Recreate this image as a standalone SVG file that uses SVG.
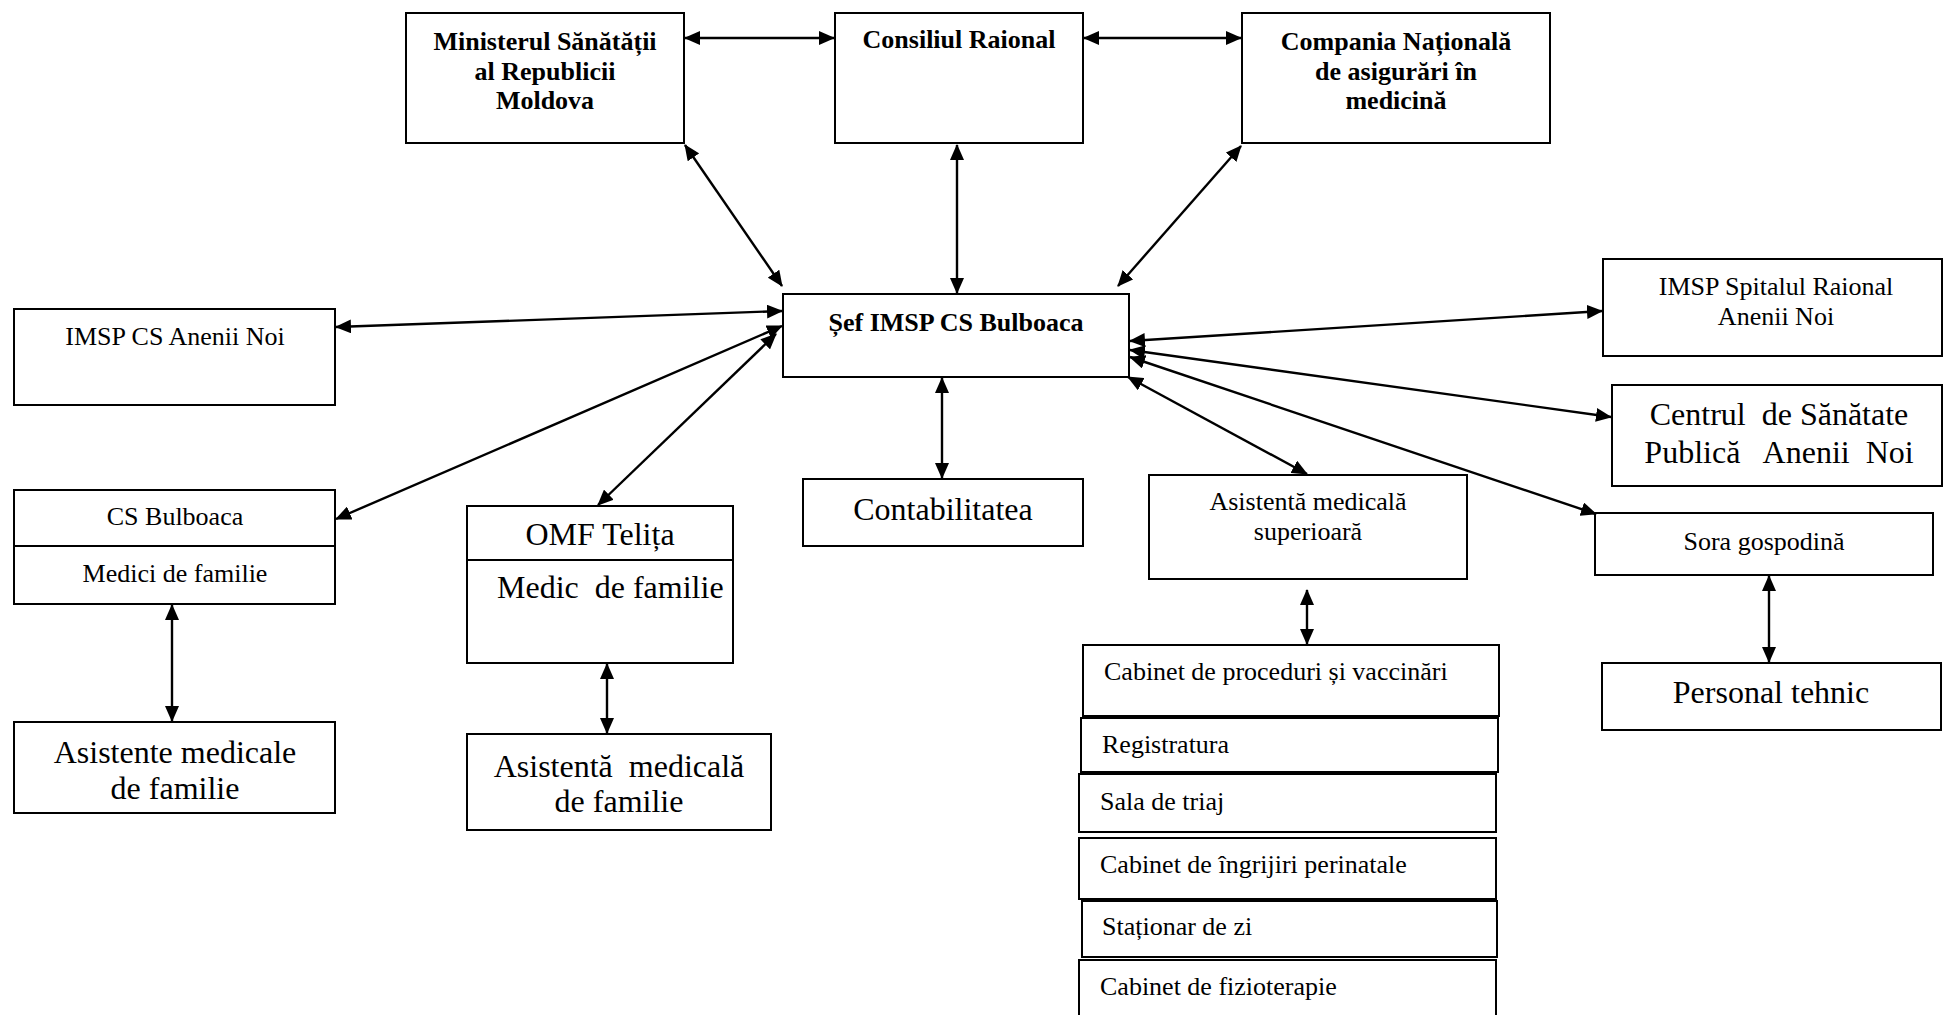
<svg xmlns="http://www.w3.org/2000/svg" width="1943" height="1015" viewBox="0 0 1943 1015">
<style>
.box{fill:#fff;stroke:#000;stroke-width:2}
.t{font-family:"Liberation Serif","Times New Roman",serif;fill:#000;font-size:26px}
.b{font-weight:bold}
.L{font-size:32px}
.c{text-anchor:middle}
.con line{stroke:#000;stroke-width:2.4;marker-start:url(#ah);marker-end:url(#ah)}
</style>
<defs>
<marker id="ah" viewBox="0 0 16 14" refX="15" refY="7" markerWidth="16" markerHeight="14" markerUnits="userSpaceOnUse" orient="auto-start-reverse">
<path d="M0,0 L16,7 L0,14 z" fill="#000"/>
</marker>
</defs>
<rect width="1943" height="1015" fill="#fff"/>

<g id="ministerul">
<rect class="box" x="406" y="13" width="278" height="130"/>
<text class="t b c" x="545" y="50">Ministerul Sănătății</text>
<text class="t b c" x="545" y="80">al Republicii</text>
<text class="t b c" x="545" y="109">Moldova</text>
</g>
<g id="consiliul">
<rect class="box" x="835" y="13" width="248" height="130"/>
<text class="t b c" x="959" y="48">Consiliul Raional</text>
</g>
<g id="compania">
<rect class="box" x="1242" y="13" width="308" height="130"/>
<text class="t b c" x="1396" y="50">Compania Națională</text>
<text class="t b c" x="1396" y="80">de asigurări în</text>
<text class="t b c" x="1396" y="109">medicină</text>
</g>
<g id="sef">
<rect class="box" x="783" y="294" width="346" height="83"/>
<text class="t b c" x="956" y="331">Șef IMSP CS Bulboaca</text>
</g>
<g id="anenii">
<rect class="box" x="14" y="309" width="321" height="96"/>
<text class="t c" x="175" y="345">IMSP CS Anenii Noi</text>
</g>
<g id="spitalul">
<rect class="box" x="1603" y="259" width="339" height="97"/>
<text class="t c" x="1776" y="295">IMSP Spitalul Raional</text>
<text class="t c" x="1776" y="325">Anenii Noi</text>
</g>
<g id="centrul">
<rect class="box" x="1612" y="385" width="330" height="101"/>
<text class="t L c" x="1779" y="425" xml:space="preserve">Centrul  de Sănătate</text>
<text class="t L c" x="1779" y="463" xml:space="preserve">Publică   Anenii  Noi</text>
</g>
<g id="cs-bulboaca">
<rect class="box" x="14" y="490" width="321" height="114"/>
<line x1="14" y1="546" x2="335" y2="546" stroke="#000" stroke-width="2"/>
<text class="t c" x="175" y="525">CS Bulboaca</text>
<text class="t c" x="175" y="582">Medici de familie</text>
</g>
<g id="omf">
<rect class="box" x="467" y="506" width="266" height="157"/>
<line x1="467" y1="560" x2="733" y2="560" stroke="#000" stroke-width="2"/>
<text class="t L c" x="600" y="545">OMF Telița</text>
<text class="t L" x="497" y="598" xml:space="preserve">Medic  de familie</text>
</g>
<g id="contabilitatea">
<rect class="box" x="803" y="479" width="280" height="67"/>
<text class="t L c" x="943" y="520">Contabilitatea</text>
</g>
<g id="asistenta-sup">
<rect class="box" x="1149" y="475" width="318" height="104"/>
<text class="t c" x="1308" y="510">Asistentă medicală</text>
<text class="t c" x="1308" y="540">superioară</text>
</g>
<g id="sora">
<rect class="box" x="1595" y="513" width="338" height="62"/>
<text class="t c" x="1764" y="550">Sora gospodină</text>
</g>
<g id="personal">
<rect class="box" x="1602" y="663" width="339" height="67"/>
<text class="t L c" x="1771" y="703">Personal tehnic</text>
</g>
<g id="asistente-familie">
<rect class="box" x="14" y="722" width="321" height="91"/>
<text class="t L c" x="175" y="763">Asistente medicale</text>
<text class="t L c" x="175" y="799">de familie</text>
</g>
<g id="asistenta-familie">
<rect class="box" x="467" y="734" width="304" height="96"/>
<text class="t L c" x="619" y="777" xml:space="preserve">Asistentă  medicală</text>
<text class="t L c" x="619" y="812">de familie</text>
</g>
<g id="cabinet-proceduri">
<rect class="box" x="1083" y="645" width="416" height="71"/>
<text class="t" x="1104" y="680">Cabinet de proceduri și vaccinări</text>
</g>
<g id="registratura">
<rect class="box" x="1081" y="718" width="417" height="54"/>
<text class="t" x="1102" y="753">Registratura</text>
</g>
<g id="sala-triaj">
<rect class="box" x="1079" y="774" width="417" height="58"/>
<text class="t" x="1100" y="810">Sala de triaj</text>
</g>
<g id="perinatale">
<rect class="box" x="1079" y="838" width="417" height="61"/>
<text class="t" x="1100" y="873">Cabinet de îngrijiri perinatale</text>
</g>
<g id="stationar">
<rect class="box" x="1082" y="901" width="415" height="56"/>
<text class="t" x="1102" y="935">Staționar de zi</text>
</g>
<g id="fizioterapie">
<rect class="box" x="1079" y="960" width="417" height="60"/>
<text class="t" x="1100" y="995">Cabinet de fizioterapie</text>
</g>

<g id="connectors" class="con">
<line x1="685" y1="38" x2="834" y2="38"/>
<line x1="1084" y1="38" x2="1241" y2="38"/>
<line x1="685" y1="145" x2="782" y2="286"/>
<line x1="957" y1="145" x2="957" y2="293"/>
<line x1="1241" y1="146" x2="1118" y2="286"/>
<line x1="336" y1="327" x2="782" y2="311"/>
<line x1="336" y1="519" x2="782" y2="326"/>
<line x1="598" y1="505" x2="776" y2="334"/>
<line x1="942" y1="378" x2="942" y2="478"/>
<line x1="1130" y1="341" x2="1602" y2="311"/>
<line x1="1130" y1="350" x2="1611" y2="417"/>
<line x1="1130" y1="357" x2="1596" y2="514"/>
<line x1="1128" y1="377" x2="1307" y2="474"/>
<line x1="172" y1="605" x2="172" y2="721"/>
<line x1="607" y1="664" x2="607" y2="733"/>
<line x1="1307" y1="590" x2="1307" y2="644"/>
<line x1="1769" y1="576" x2="1769" y2="662"/>
</g>
</svg>
